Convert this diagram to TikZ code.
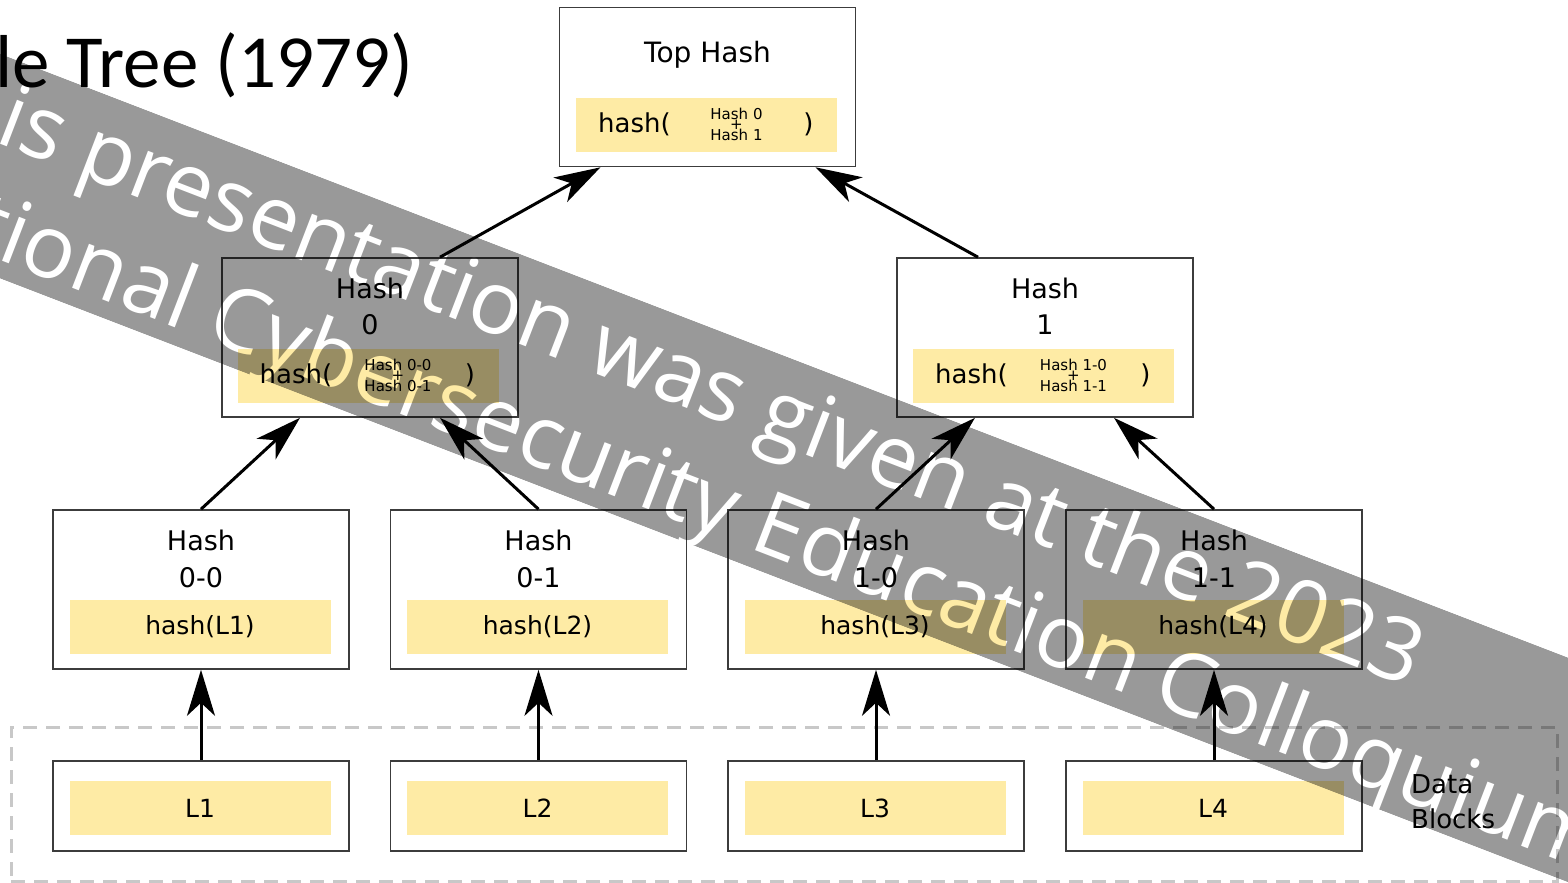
\documentclass[tikz,border=0pt]{standalone}
\usepackage{fontspec}
\usetikzlibrary{arrows.meta,fadings,calc}
\newfontfamily\diagfont{DejaVu Sans}
\newfontfamily\titlefont{Carlito}
\newfontfamily\markfont{Open Sans}
\definecolor{digestyellow}{RGB}{254,235,165}
\definecolor{boxline}{RGB}{60,60,60}
\definecolor{dashgray}{RGB}{200,200,200}

\tikzset{
  hashbox/.style={draw=boxline, line width=1.6pt, fill=white, minimum width=296pt, minimum height=159pt, inner sep=0pt},
  leafbox/.style={hashbox, minimum height=90pt},
  digest/.style={fill=digestyellow, minimum width=261pt, minimum height=54pt, inner sep=0pt, font=\diagfont\fontsize{25}{30}\selectfont},
  boxtitle/.style={inner sep=0pt, font=\diagfont\fontsize{27}{32}\selectfont},
  calltxt/.style={inner sep=0pt, font=\diagfont\fontsize{26}{30}\selectfont},
  smalltxt/.style={inner sep=0pt, font=\diagfont\fontsize{15}{18}\selectfont},
  hashlink/.style={line width=3pt, -{Stealth[length=46pt,width=28pt,inset=13pt]}},
}

% hash( child + child ) strip inside an inner node
\newcommand\pairdigest[5]{%
  \node[digest] (#1) at (#2,#3) {};
  \node[calltxt] (#1-open) at ($(#1.center)+(-72,0)$) {hash(};
  \node[smalltxt] (#1-a) at ($(#1.center)+(30,-10.5)$) {#4};
  \node[smalltxt] (#1-p) at ($(#1.center)+(30,0)$) {+};
  \node[smalltxt] (#1-b) at ($(#1.center)+(30,10.5)$) {#5};
  \node[calltxt] (#1-close) at ($(#1.center)+(102,0)$) {)};
}

% diagonal band with the notice cut out of it
\begin{tikzfadingfrompicture}[name=notice, x=1pt, y=-1pt]
  \useasboundingbox (-895.57,-457.05) -- (970.81,261.63) -- (895.57,457.05) -- (-970.81,-261.63) -- cycle;
  \fill[transparent!60] (-895.57,-457.05) -- (970.81,261.63) -- (895.57,457.05) -- (-970.81,-261.63) -- cycle;
  \node[rotate=-21.06, text=transparent!100, align=left, anchor=west, inner sep=0pt,
        font=\markfont\fontsize{88}{108}\selectfont] (noticetext) at (-897.9,-334.1)
    {This presentation was given at the 2023\\National Cybersecurity Education Colloquium};
\end{tikzfadingfrompicture}

\begin{document}
\begin{tikzpicture}[x=1pt, y=-1pt]
\useasboundingbox (0,0) rectangle (1568,883);
\clip (0,0) rectangle (1568,883);
\fill[white] (0,0) rectangle (1568,883);

% slide title
\node[anchor=base east, inner sep=0pt, font=\titlefont\fontsize{75}{90}\selectfont] (title) at (413,87) {Merkle Tree (1979)};

% frame round the data blocks
\node[draw=dashgray, line width=3pt, dash pattern=on 14pt off 9pt, minimum width=1546pt, minimum height=154pt, inner sep=0pt] (blocks) at (784,804) {};
\node[anchor=west, align=left, inner sep=0pt, font=\diagfont\fontsize{26}{35}\selectfont] (blockslabel) at (1411,802) {Data\\Blocks};

% root
\node[hashbox] (top) at (707.5,87) {};
\node[boxtitle, font=\diagfont\fontsize{28}{32}\selectfont] (top-t) at (707.5,55) {Top Hash};
\pairdigest{top-d}{706.5}{124.5}{Hash 0}{Hash 1}

% inner level
\node[hashbox] (h0) at (370,337.5) {};
\node[boxtitle] (h0-t) at (370,288) {Hash};
\node[boxtitle] (h0-id) at (370,325) {0};
\pairdigest{h0-d}{368}{375.5}{Hash 0-0}{Hash 0-1}

\node[hashbox] (h1) at (1045,337.5) {};
\node[boxtitle] (h1-t) at (1045,288) {Hash};
\node[boxtitle] (h1-id) at (1045,325) {1};
\pairdigest{h1-d}{1043.5}{375.5}{Hash 1-0}{Hash 1-1}

% leaf hashes and data blocks
\foreach \n/\x/\id/\L in {h00/201/0-0/L1, h01/538.5/0-1/L2, h10/876/1-0/L3, h11/1214/1-1/L4} {
  \node[hashbox] (\n) at (\x,589.5) {};
  \node[boxtitle] (\n-t) at (\x,540) {Hash};
  \node[boxtitle] (\n-id) at (\x,578) {\id};
  \node[digest] (\n-d) at (\x-1,627) {hash(\L)};
  \node[leafbox] (\n-leaf) at (\x,806) {};
  \node[digest] (\n-ld) at (\x-1,808) {\L};
  \draw[hashlink] (\n-leaf) -- (\n);
}

% hashes feeding their parents
\draw[hashlink] (h00.north) -- ([xshift=-70pt]h0.south);
\draw[hashlink] (h01.north) -- ([xshift=70pt]h0.south);
\draw[hashlink] (h10.north) -- ([xshift=-70pt]h1.south);
\draw[hashlink] (h11.north) -- ([xshift=69pt]h1.south);
\draw[hashlink] ([xshift=70pt]h0.north) -- ([xshift=-107pt]top.south);
\draw[hashlink] ([xshift=-67pt]h1.north) -- ([xshift=108pt]top.south);

% notice band across the slide
\begin{scope}[transform canvas={shift={(784,468)}}]
  \fill[black, path fading=notice, fit fading=false]
    (-895.57,-457.05) -- (970.81,261.63) -- (895.57,457.05) -- (-970.81,-261.63) -- cycle;
\end{scope}
\end{tikzpicture}
\end{document}
